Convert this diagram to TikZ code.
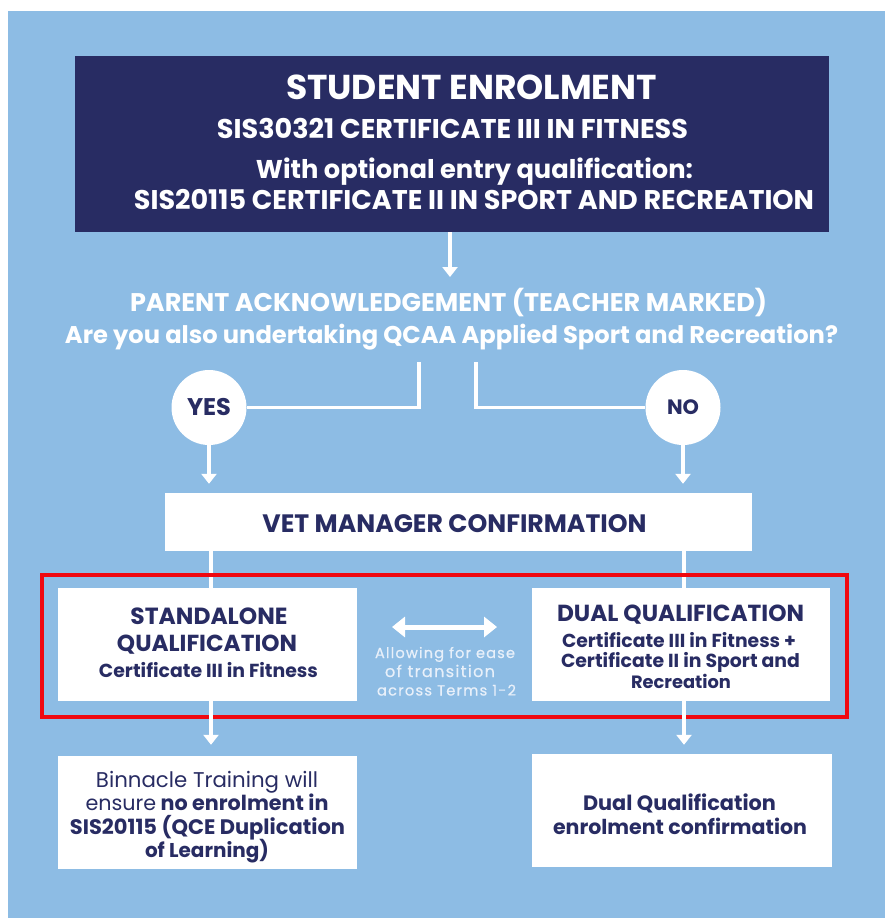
\documentclass[tikz,border=0pt]{standalone}
\usepackage{fontspec}
\setmainfont{Poppins}
\usetikzlibrary{arrows.meta}
\definecolor{bgblue}{RGB}{141,188,228}
\definecolor{navy}{RGB}{40,44,99}
\definecolor{hlred}{RGB}{240,8,16}
\definecolor{softwhite}{RGB}{232,240,250}
\newcommand{\fw}[2]{\resizebox{#1pt}{!}{#2}}
\begin{document}
\begin{tikzpicture}[x=1pt,y=-1pt,
  txt/.style={inner sep=0pt, anchor=base, font=\bfseries},
  wtxt/.style={txt, text=white},
  ntxt/.style={txt, text=navy},
  ltxt/.style={txt, text=softwhite, font=\mdseries\addfontfeatures{LetterSpace=8,FakeBold=0.6}},
  wbox/.style={fill=white, draw=none, inner sep=0pt},
  conn/.style={draw=white, line width=3.2pt},
  arr/.style={conn, -{Triangle[width=15pt,length=10pt]}},
  answer/.style={circle, fill=white, minimum size=75pt, inner sep=0pt, text=navy, font=\bfseries},
]
\useasboundingbox (0,0) rectangle (885,918);
\fill[bgblue] (8,11) rectangle (885,918);

% top box
\node[fill=navy, minimum width=754pt, minimum height=176pt, inner sep=0pt] (top) at (452,144) {};
\node[wtxt] (t1) at (471.5,99.5) {\fw{371}{STUDENT ENROLMENT}};
\node[wtxt] (t2) at (452.5,138.5) {\fw{471}{SIS30321 CERTIFICATE III IN FITNESS}};
\node[wtxt] (t3) at (474.5,178) {\fw{437}{With optional entry qualification:}};
\node[wtxt] (t4) at (474,209.5) {\fw{680}{SIS20115 CERTIFICATE II IN SPORT AND RECREATION}};

% question
\coordinate (qa) at (450,277);
\draw[arr] (top.south -| qa) -- (qa);
\node[wtxt] (q1) at (448.5,311) {\fw{637}{PARENT ACKNOWLEDGEMENT (TEACHER MARKED)}};
\node[wtxt] (q2) at (451.5,343) {\fw{773}{Are you also undertaking QCAA Applied Sport and Recreation?}};

% answers
\node[answer] (yes) at (209,407.5) {\fw{44}{YES}};
\node[answer] (no) at (683,407.5) {\fw{32}{NO}};
\coordinate (ql) at (419,362);
\coordinate (qr) at (476,362);
\draw[conn] (ql) |- (yes.east);
\draw[conn] (qr) |- (no.west);

% VET manager
\node[wbox, minimum width=587pt, minimum height=58pt] (vet) at (458.5,522) {};
\node[ntxt] (vett) at (454.5,532) {\fw{384}{VET MANAGER CONFIRMATION}};
\draw[arr, shorten >=9pt] (yes.south) -- (yes.south |- vet.north);
\draw[arr, shorten >=9pt] (no.south) -- (no.south |- vet.north);

% qualification boxes
\coordinate (lx) at (211,0);
\coordinate (rx) at (684,0);
\draw[conn] (vet.south -| lx) -- (lx |- 0,600);
\draw[conn] (vet.south -| rx) -- (rx |- 0,600);
\node[wbox, minimum width=299pt, minimum height=113pt] (sa) at (207,644.5) {};
\node[wbox, minimum width=298pt, minimum height=113pt] (dq) at (681,644.5) {};

\node[ntxt] (sa1) at (209,624) {\fw{157}{STANDALONE}};
\node[ntxt] (sa2) at (207,651) {\fw{180}{QUALIFICATION}};
\node[ntxt] (sa3) at (208.5,677) {\fw{219}{Certificate III in Fitness}};

\node[ntxt] (dq1) at (680.5,621) {\fw{247}{DUAL QUALIFICATION}};
\node[ntxt] (dq2) at (679,647) {\fw{234}{Certificate III in Fitness +}};
\node[ntxt] (dq3) at (680.5,667.5) {\fw{239}{Certificate II in Sport and}};
\node[ntxt] (dq4) at (681,688) {\fw{100}{Recreation}};

% transition
\coordinate (da1) at (392,627);
\coordinate (da2) at (497,627);
\draw[white, line width=5pt, {Triangle[width=20pt,length=13pt]}-{Triangle[width=20pt,length=13pt]}] (da1) -- (da2);
\node[ltxt] (al1) at (445,658) {\fw{140}{Allowing for ease}};
\node[ltxt] (al2) at (440,677) {\fw{110}{of transition}};
\node[ltxt] (al3) at (446.5,695.5) {\fw{139}{across Terms 1-2}};

% highlight frame
\draw[hlred, line width=3.5pt] (42,575) rectangle (847,717);

% bottom boxes
\node[wbox, minimum width=299pt, minimum height=113pt] (bl) at (207,812.5) {};
\node[wbox, minimum width=300pt, minimum height=113pt] (br) at (682,810.5) {};
\draw[arr, shorten >=11pt] (sa.south -| lx) -- (bl.north -| lx);
\draw[arr, shorten >=9pt] (dq.south -| rx) -- (br.north -| rx);

\node[ntxt] (bl1) at (207,787) {\fw{222}{\mdseries Binnacle Training will}};
\node[ntxt] (bl2) at (207,810.5) {\fw{243}{{\mdseries ensure} no enrolment in}};
\node[ntxt] (bl3) at (207.5,834) {\fw{275}{SIS20115 (QCE Duplication}};
\node[ntxt] (bl4) at (207,857) {\fw{124}{of Learning)}};

\node[ntxt] (br1) at (679.5,810.5) {\fw{193}{Dual Qualification}};
\node[ntxt] (br2) at (680,834) {\fw{254}{enrolment confirmation}};
\end{tikzpicture}
\end{document}
